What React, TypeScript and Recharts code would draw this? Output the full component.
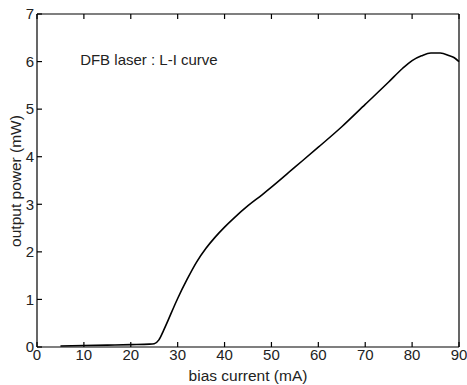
import { Label, Line, LineChart, ReferenceDot, XAxis, YAxis } from "recharts";

const current = [5, 10, 15, 20, 24, 25, 26, 27, 28, 29, 30, 32, 34, 36, 38, 40, 42, 45, 48, 50, 55, 60, 65, 70, 75, 78, 80, 82, 84, 86, 88, 89, 90];
const power = [0.02, 0.03, 0.04, 0.05, 0.06, 0.07, 0.15, 0.35, 0.57, 0.8, 1.02, 1.42, 1.78, 2.07, 2.31, 2.52, 2.71, 2.97, 3.2, 3.36, 3.78, 4.2, 4.63, 5.1, 5.57, 5.86, 6.02, 6.12, 6.18, 6.18, 6.12, 6.08, 6.0];
const xTicks = [0, 10, 20, 30, 40, 50, 60, 70, 80, 90];
const yTicks = [0, 1, 2, 3, 4, 5, 6, 7];

const data = current.map((c, i) => ({ current: c, power: power[i] }));

const FONT = "'Liberation Sans', Arial, sans-serif";
const TICK_LEN = 5;

// tickSize is negative so the tick marks point into the plot; labels are shifted back out
function BottomTick({ x, y, payload }: any) {
  return (
    <text x={x} y={y + TICK_LEN + 2} dy="0.71em" textAnchor="middle" fontSize={15} fill="#222" fontFamily={FONT}>
      {payload.value}
    </text>
  );
}

function LeftTick({ x, y, payload }: any) {
  return (
    <text x={x - TICK_LEN - 3} y={y} dy="0.35em" textAnchor="end" fontSize={15} fill="#222" fontFamily={FONT}>
      {payload.value}
    </text>
  );
}

const NoLabel = () => <g />;

const tickStroke = { stroke: "#000", strokeWidth: 1.2 };

export default function App() {
  return (
    <div style={{ position: "absolute", left: 0, top: 0, background: "#fff" }}>
      <LineChart width={467} height={385} data={data} margin={{ top: 13, right: 7, bottom: 0, left: 0 }}>
        <XAxis
          xAxisId="b"
          dataKey="current"
          type="number"
          domain={[0, 90]}
          ticks={xTicks}
          height={38}
          tickSize={-TICK_LEN}
          tickMargin={0}
          tickLine={tickStroke}
          axisLine={tickStroke}
          tick={<BottomTick />}
          interval={0}
        >
          <Label
            value="bias current (mA)"
            position="insideBottom"
            offset={4}
            fontSize={15.5}
            fill="#222"
            fontFamily={FONT}
          />
        </XAxis>
        <XAxis
          xAxisId="t"
          orientation="top"
          dataKey="current"
          type="number"
          domain={[0, 90]}
          ticks={xTicks}
          height={1}
          tickSize={-TICK_LEN}
          tickLine={tickStroke}
          axisLine={tickStroke}
          tick={<NoLabel />}
          interval={0}
        />
        <YAxis
          yAxisId="l"
          type="number"
          domain={[0, 7]}
          ticks={yTicks}
          width={37}
          tickSize={-TICK_LEN}
          tickMargin={0}
          tickLine={tickStroke}
          axisLine={tickStroke}
          tick={<LeftTick />}
          interval={0}
        >
          <Label
            content={() => (
              <text
                x={15}
                y={181}
                transform="rotate(-90 15 181)"
                textAnchor="middle"
                dominantBaseline="central"
                fontSize={15.5}
                fill="#222"
                fontFamily={FONT}
              >
                output power (mW)
              </text>
            )}
          />
        </YAxis>
        <YAxis
          yAxisId="r"
          orientation="right"
          type="number"
          domain={[0, 7]}
          ticks={yTicks}
          width={1}
          tickSize={-TICK_LEN}
          tickLine={tickStroke}
          axisLine={tickStroke}
          tick={<NoLabel />}
          interval={0}
        />
        <Line
          xAxisId="b"
          yAxisId="l"
          dataKey="power"
          type="monotone"
          stroke="#000"
          strokeWidth={1.6}
          dot={false}
          isAnimationActive={false}
        />
        <ReferenceDot
          xAxisId="b"
          yAxisId="l"
          x={9.2}
          y={6.03}
          r={0}
          shape={(p: any) => (
            <text x={p.cx} y={p.cy} dy="0.35em" fontSize={15} fill="#222" fontFamily={FONT}>
              DFB laser : L-I curve
            </text>
          )}
        />
      </LineChart>
    </div>
  );
}
